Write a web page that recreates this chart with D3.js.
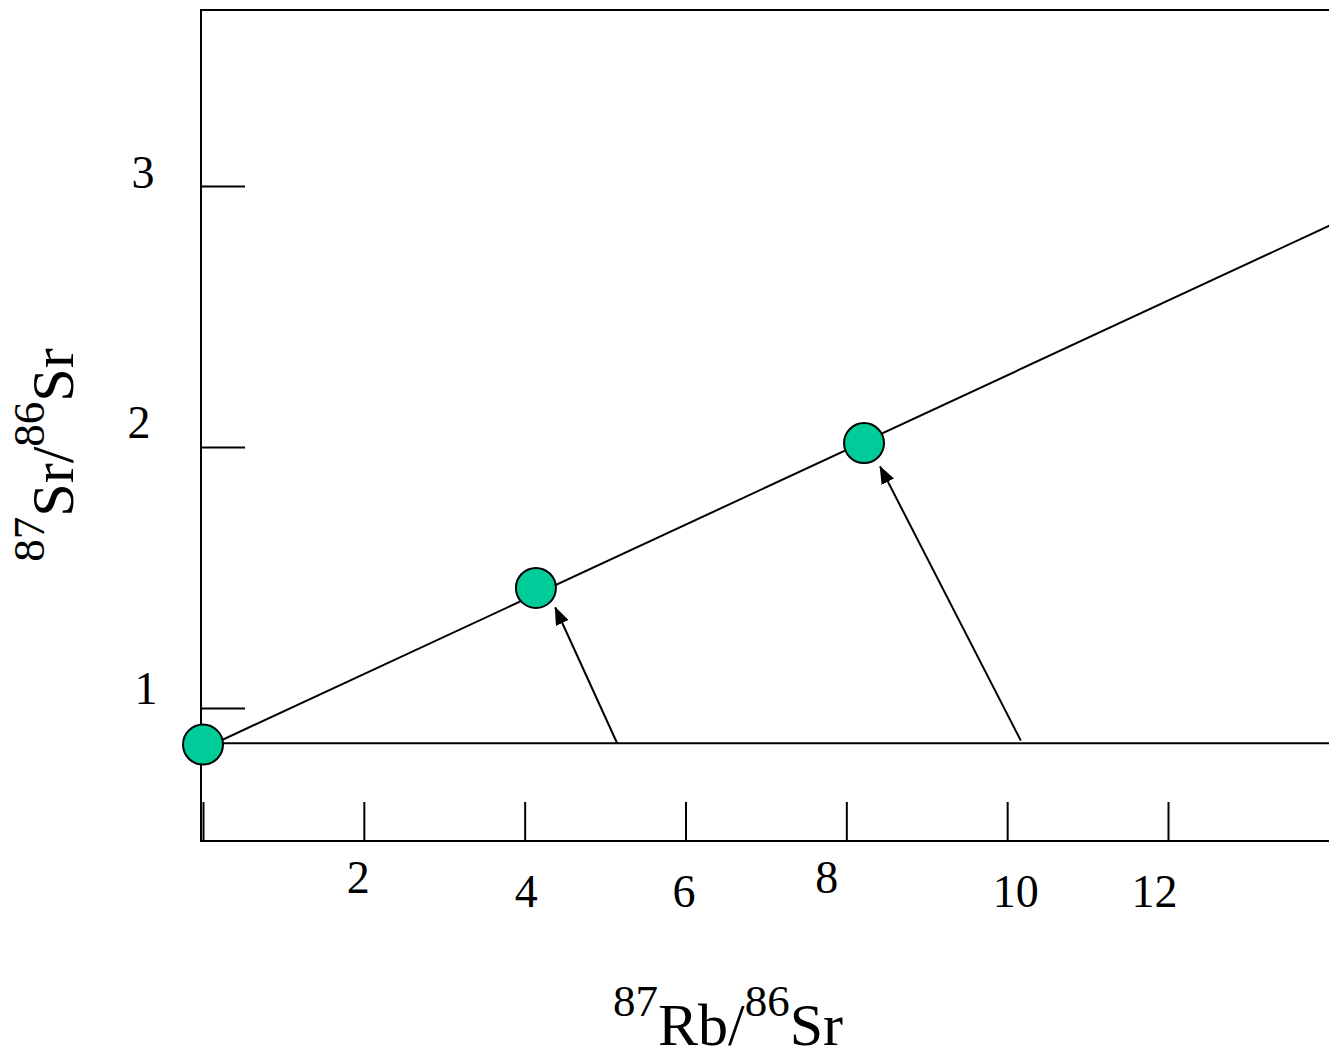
<!DOCTYPE html>
<html>
<head>
<meta charset="utf-8">
<script src="https://cdn.jsdelivr.net/npm/d3@7"></script>
<style>
  body { margin: 0; background: #fff; }
  text { font-family: "Liberation Serif", "Times New Roman", serif; fill: #000; }
</style>
</head>
<body>
<div id="chart"></div>
<script>
"use strict";

// tick values / labels
var xTicks = [0, 2, 4, 6, 8, 10, 12];
var xTickLabels = ["", "2", "4", "6", "8", "10", "12"];
var yTicks = [1, 2, 3];
var yTickLabels = ["1", "2", "3"];

// samples: 87Rb/86Sr vs 87Sr/86Sr
var sampleRb = [0, 4.14, 8.22];
var sampleSr = [0.86, 1.46, 2.015];

// initial ratio line + isochron (end points)
var initialRb = [0, 14.3];
var initialSr = [0.865, 0.865];
var isochronRb = [0.15, 14.3];
var isochronSr = [0.865, 2.89];

// arrows from the initial line up to the samples
var arrowFromRb = [5.15, 10.17];
var arrowFromSr = [0.865, 0.875];
var arrowToRb = [4.38, 8.42];
var arrowToSr = [1.385, 1.925];

var width = 1329,
  height = 1053;

// hand placed label nudges (like the original slide)
var xLabelDx = [0, -6, 1, -2, -20, 8, -14];
var xLabelBase = [0, 52, 66, 66, 52, 66, 66];
var yLabelX = [-55, -62, -58];
var yLabelDy = [-5, -10, 1];

var x = d3.scaleLinear().domain([0, 12]).range([203, 1168]);
var y = d3.scaleLinear().domain([1, 3]).range([708, 186]);

var svg = d3
  .select("#chart")
  .append("svg")
  .attr("width", width)
  .attr("height", height);

svg
  .append("defs")
  .append("clipPath")
  .attr("id", "plot")
  .append("rect")
  .attr("x", 201)
  .attr("y", 10)
  .attr("width", 1200)
  .attr("height", 831);

var marker = svg
  .select("defs")
  .append("marker")
  .attr("id", "head")
  .attr("markerUnits", "userSpaceOnUse")
  .attr("viewBox", "0 0 18 14")
  .attr("markerWidth", 18)
  .attr("markerHeight", 14)
  .attr("refX", 17)
  .attr("refY", 7)
  .attr("orient", "auto");
marker.append("path").attr("d", "M0,0L18,7L0,14Z").attr("fill", "#000");

// frame (right side runs off the slide)
svg
  .append("path")
  .attr("d", "M1400,10H201V841H1400")
  .attr("fill", "none")
  .attr("stroke", "#000")
  .attr("stroke-width", 2);

// x axis, ticks point up into the plot
var xAxis = svg
  .append("g")
  .attr("transform", "translate(0,841)")
  .call(
    d3
      .axisBottom(x)
      .tickValues(xTicks)
      .tickSize(-39)
      .tickFormat(function(d, i) {
        return xTickLabels[i];
      })
  );
xAxis.select(".domain").remove();
xAxis.selectAll("line").attr("stroke", "#000").attr("stroke-width", 2);
xAxis
  .selectAll("text")
  .attr("font-size", 46)
  .attr("fill", "#000")
  .attr("dy", 0)
  .attr("x", function(d, i) {
    return xLabelDx[i];
  })
  .attr("y", function(d, i) {
    return xLabelBase[i];
  });

// y axis, ticks point right
var yAxis = svg
  .append("g")
  .attr("transform", "translate(201,0)")
  .call(
    d3
      .axisLeft(y)
      .tickValues(yTicks)
      .tickSize(-44)
      .tickFormat(function(d, i) {
        return yTickLabels[i];
      })
  );
yAxis.select(".domain").remove();
yAxis.selectAll("line").attr("stroke", "#000").attr("stroke-width", 2);
yAxis
  .selectAll("text")
  .attr("font-size", 46)
  .attr("fill", "#000")
  .attr("text-anchor", "middle")
  .attr("dy", 0)
  .attr("x", function(d, i) {
    return yLabelX[i];
  })
  .attr("y", function(d, i) {
    return yLabelDy[i];
  });

var line = d3
  .line()
  .x(function(d) {
    return x(d[0]);
  })
  .y(function(d) {
    return y(d[1]);
  });

var plot = svg.append("g").attr("clip-path", "url(#plot)");

plot
  .append("path")
  .datum(d3.zip(initialRb, initialSr))
  .attr("d", line)
  .attr("fill", "none")
  .attr("stroke", "#000")
  .attr("stroke-width", 2);

var samples = d3.zip(sampleRb, sampleSr);

function drawSamples(data) {
  svg
    .append("g")
    .selectAll("circle")
    .data(data)
    .enter()
    .append("circle")
    .attr("cx", function(d) {
      return x(d[0]);
    })
    .attr("cy", function(d) {
      return y(d[1]);
    })
    .attr("r", 20)
    .attr("fill", "#00CC99")
    .attr("stroke", "#000")
    .attr("stroke-width", 2);
}

// first point sits under the isochron, the others over it
drawSamples(samples.slice(0, 1));

plot
  .append("path")
  .datum(d3.zip(isochronRb, isochronSr))
  .attr("d", line)
  .attr("fill", "none")
  .attr("stroke", "#000")
  .attr("stroke-width", 2);

drawSamples(samples.slice(1));

svg
  .append("g")
  .selectAll("line")
  .data(d3.range(arrowFromRb.length))
  .enter()
  .append("line")
  .attr("x1", function(i) {
    return x(arrowFromRb[i]);
  })
  .attr("y1", function(i) {
    return y(arrowFromSr[i]);
  })
  .attr("x2", function(i) {
    return x(arrowToRb[i]);
  })
  .attr("y2", function(i) {
    return y(arrowToSr[i]);
  })
  .attr("stroke", "#000")
  .attr("stroke-width", 2)
  .attr("marker-end", "url(#head)");

// axis titles with superscript isotopes
function isotopeTitle(g, parts) {
  parts.forEach(function(p) {
    g.append("tspan")
      .attr("font-size", p.sup ? 45 : 60)
      .attr("dy", p.sup ? -29 : 29)
      .text(p.t);
  });
}

var xTitle = svg
  .append("text")
  .attr("x", 728)
  .attr("y", 1045)
  .attr("text-anchor", "middle");
isotopeTitle(xTitle, [
  { t: "87", sup: true },
  { t: "Rb/", sup: false },
  { t: "86", sup: true },
  { t: "Sr", sup: false }
]);

var yTitle = svg
  .append("text")
  .attr("transform", "translate(73,455) rotate(-90)")
  .attr("text-anchor", "middle");
isotopeTitle(yTitle, [
  { t: "87", sup: true },
  { t: "Sr/", sup: false },
  { t: "86", sup: true },
  { t: "Sr", sup: false }
]);
</script>
</body>
</html>
